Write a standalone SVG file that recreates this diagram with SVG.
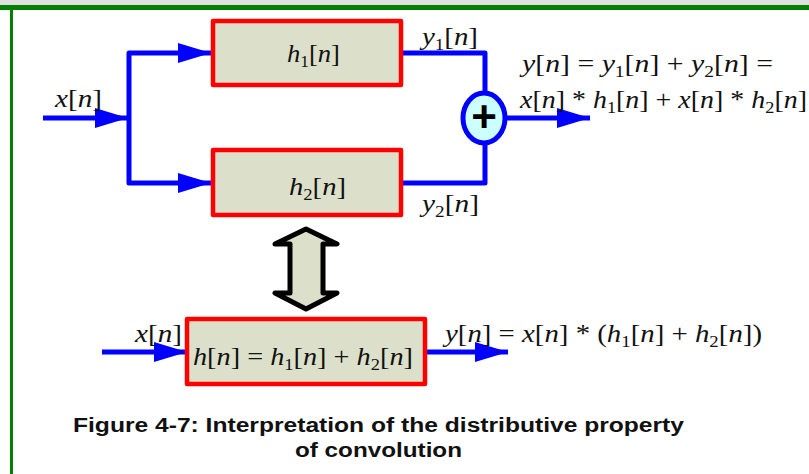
<svg xmlns="http://www.w3.org/2000/svg" width="809" height="474" viewBox="0 0 809 474">
<style>
.blk{fill:#dcdfc9;stroke:#ff0000;stroke-width:4.5;stroke-linejoin:round}
.w{fill:none;stroke:#0000ff;stroke-width:5;stroke-linejoin:round}
.m{font-family:"Liberation Serif","Times New Roman",serif;font-size:26px;fill:#111}
.i{font-style:italic}
.s{font-size:17px}
.cap{font-family:"Liberation Sans",Arial,sans-serif;font-weight:bold;font-size:20px;fill:#111;text-anchor:middle}
</style>
<defs>
<marker id="ah" markerUnits="userSpaceOnUse" markerWidth="34" markerHeight="22" refX="33" refY="11" orient="auto">
<path d="M0,1 L33,11 L0,21 Z" fill="#0000ff"/>
</marker>
</defs>
<rect x="0" y="0" width="809" height="5" fill="#e0e0e0"/>
<rect x="0" y="5" width="809" height="5" fill="#008000"/>
<rect x="10" y="10" width="3" height="464" fill="#008000"/>

<g id="connectors">
<path class="w" d="M43,118 H128" stroke-linecap="butt" marker-end="url(#ah)"/>
<path class="w" d="M129,118 V53 H211" marker-end="url(#ah)"/>
<path class="w" d="M129,118 V183 H211" marker-end="url(#ah)"/>
<path class="w" d="M403,53 H485 V92"/>
<path class="w" d="M403,183 H485 V144"/>
<path class="w" d="M506,118 H590" marker-end="url(#ah)"/>
<path class="w" d="M102,352 H187" marker-end="url(#ah)"/>
<path class="w" d="M427,352 H508" marker-end="url(#ah)"/>
</g>

<g id="h1">
<rect class="blk" x="213" y="21" width="188" height="64"/>
<text class="m" x="287" y="62" textLength="53" lengthAdjust="spacingAndGlyphs"><tspan class="i">h</tspan><tspan class="s" dy="5">1</tspan><tspan dy="-5">[</tspan><tspan class="i">n</tspan>]</text>
</g>
<g id="h2">
<rect class="blk" x="213" y="150" width="188" height="65"/>
<text class="m" x="289" y="195" textLength="57" lengthAdjust="spacingAndGlyphs"><tspan class="i">h</tspan><tspan class="s" dy="5">2</tspan><tspan dy="-5">[</tspan><tspan class="i">n</tspan>]</text>
</g>
<g id="sum">
<ellipse cx="484" cy="118" rx="21" ry="25" fill="#ccffff" stroke="#0000ff" stroke-width="5"/>
<text x="484" y="132" font-family="Liberation Sans,Arial,sans-serif" font-weight="bold" font-size="44" text-anchor="middle" fill="#000">+</text>
</g>
<g id="equiv">
<path d="M306,229 L337,244 L323,244 L323,293 L337,293 L306,309 L275,293 L290,293 L290,244 L275,244 Z" fill="#dcdfc9" stroke="#000" stroke-width="5" stroke-linejoin="round"/>
</g>
<g id="h">
<rect class="blk" x="187" y="319" width="238" height="65"/>
<text class="m" x="193" y="365" textLength="220" lengthAdjust="spacingAndGlyphs"><tspan class="i">h</tspan>[<tspan class="i">n</tspan>] = <tspan class="i">h</tspan><tspan class="s" dy="5">1</tspan><tspan dy="-5">[</tspan><tspan class="i">n</tspan>] + <tspan class="i">h</tspan><tspan class="s" dy="5">2</tspan><tspan dy="-5">[</tspan><tspan class="i">n</tspan>]</text>
</g>

<g id="labels">
<text class="m" x="55" y="107" textLength="47" lengthAdjust="spacingAndGlyphs"><tspan class="i">x</tspan>[<tspan class="i">n</tspan>]</text>
<text class="m" x="422" y="45" textLength="56" lengthAdjust="spacingAndGlyphs"><tspan class="i">y</tspan><tspan class="s" dy="5">1</tspan><tspan dy="-5">[</tspan><tspan class="i">n</tspan>]</text>
<text class="m" x="422" y="212" textLength="57" lengthAdjust="spacingAndGlyphs"><tspan class="i">y</tspan><tspan class="s" dy="5">2</tspan><tspan dy="-5">[</tspan><tspan class="i">n</tspan>]</text>
<text class="m" x="522" y="72" textLength="251" lengthAdjust="spacingAndGlyphs"><tspan class="i">y</tspan>[<tspan class="i">n</tspan>] = <tspan class="i">y</tspan><tspan class="s" dy="5">1</tspan><tspan dy="-5">[</tspan><tspan class="i">n</tspan>] + <tspan class="i">y</tspan><tspan class="s" dy="5">2</tspan><tspan dy="-5">[</tspan><tspan class="i">n</tspan>] =</text>
<text class="m" x="520" y="108" textLength="287" lengthAdjust="spacingAndGlyphs"><tspan class="i">x</tspan>[<tspan class="i">n</tspan>] * <tspan class="i">h</tspan><tspan class="s" dy="5">1</tspan><tspan dy="-5">[</tspan><tspan class="i">n</tspan>] + <tspan class="i">x</tspan>[<tspan class="i">n</tspan>] * <tspan class="i">h</tspan><tspan class="s" dy="5">2</tspan><tspan dy="-5">[</tspan><tspan class="i">n</tspan>]</text>
<text class="m" x="135" y="342" textLength="47" lengthAdjust="spacingAndGlyphs"><tspan class="i">x</tspan>[<tspan class="i">n</tspan>]</text>
<text class="m" x="445" y="342" textLength="317" lengthAdjust="spacingAndGlyphs"><tspan class="i">y</tspan>[<tspan class="i">n</tspan>] = <tspan class="i">x</tspan>[<tspan class="i">n</tspan>] * (<tspan class="i">h</tspan><tspan class="s" dy="5">1</tspan><tspan dy="-5">[</tspan><tspan class="i">n</tspan>] + <tspan class="i">h</tspan><tspan class="s" dy="5">2</tspan><tspan dy="-5">[</tspan><tspan class="i">n</tspan>])</text>
</g>

<g id="caption">
<text class="cap" x="378.5" y="432" textLength="611" lengthAdjust="spacingAndGlyphs">Figure 4-7: Interpretation of the distributive property</text>
<text class="cap" x="378.5" y="457" textLength="167" lengthAdjust="spacingAndGlyphs">of convolution</text>
</g>
</svg>
